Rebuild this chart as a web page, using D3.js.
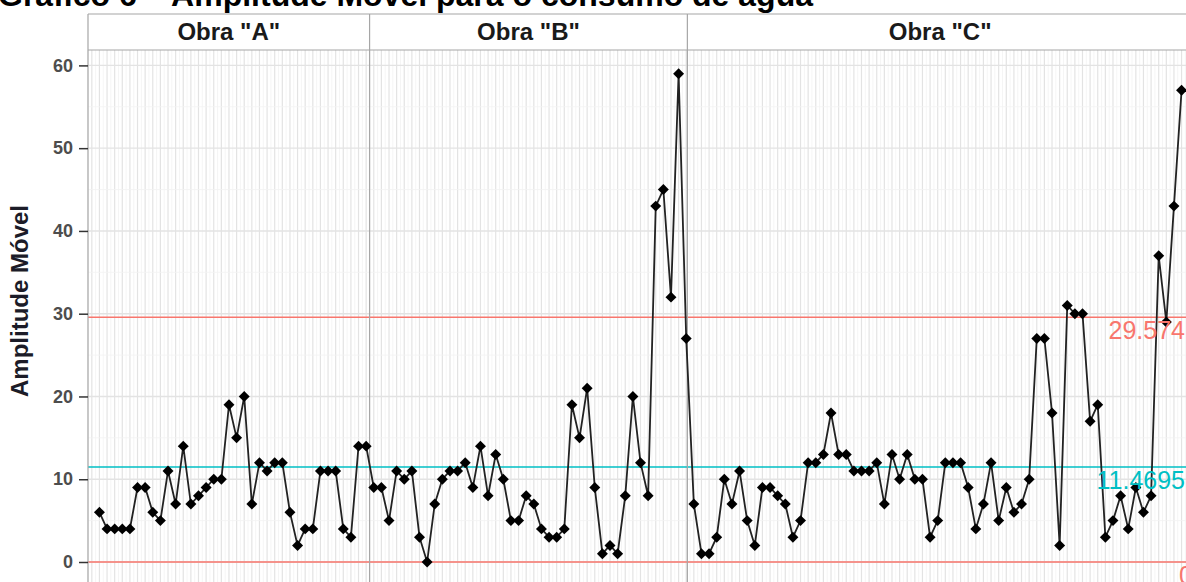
<!DOCTYPE html>
<html>
<head>
<meta charset="utf-8">
<script src="https://cdn.jsdelivr.net/npm/d3@7"></script>
<style>
  body { margin: 0; background: white; }
  text { font-family: "Liberation Sans", Arial, sans-serif; }
</style>
</head>
<body>
<div id="myVis"></div>
<script>
// Moving range values, one array per obra
const obraA = [6,4,4,4,4,9,9,6,5,11,7,14,7,8,9,10,10,19,15,20,7,12,11,12,12,6,2,4,4,11,11,11,4,3,14,14]
const obraB = [9,9,5,11,10,11,3,0,7,10,11,11,12,9,14,8,13,10,5,5,8,7,4,3,3,4,19,15,21,9,1,2,1,8,20,12,8,43,45,32,59,27]
const obraC = [7,1,1,3,10,7,11,5,2,9,9,8,7,3,5,12,12,13,18,13,13,11,11,11,12,7,13,10,13,10,10,3,5,
               12,12,12,9,4,7,12,5,9,6,7,10,27,27,18,2,31,30,30,17,19,3,5,8,4,9,6,8,37,29,43,57]
const obras = ['Obra "A"', 'Obra "B"', 'Obra "C"']
const obraLimits = [37.45, 79.15]     // where the panels split, in index units
const yTicks = [0, 10, 20, 30, 40, 50, 60]
const limits = [
  {value: 29.574, label: "29.574", color: "#F8766D"},
  {value: 11.4695, label: "11.4695", color: "#00BFC4"},
  {value: 0, label: "0", color: "#F8766D"}
]

const W = 1186, H = 582
const margin = {left: 88, top: 50, right: -7}

// first moving range is at index 2
const values = obraA.concat(obraB, obraC)
const data = values.map((v, i) => ({i: i + 2, v: v}))

const svg = d3.select("#myVis").append("svg")
    .attr("width", W)
    .attr("height", H)
    .style("background-color", "white")

const x = d3.scaleLinear().domain([0.5, 145.5]).range([margin.left, W - margin.right])
const y = d3.scaleLinear().domain([0, 60]).range([562, 65.4])

// title (cut off at the top in the original)
svg.append("text")
    .attr("x", -2)
    .attr("y", 6)
    .attr("font-size", 32)
    .attr("font-weight", "bold")
    .attr("fill", "#000")
    .text("Gráfico 6 – Amplitude Móvel para o consumo de água")

// panel grid
const grid = svg.append("g")
const minorX = d3.range(1, 146).map(d => d - 0.5)
grid.selectAll(".vminor").data(minorX).enter().append("line")
    .attr("x1", d => x(d)).attr("x2", d => x(d))
    .attr("y1", margin.top).attr("y2", H)
    .attr("stroke", "#f3f3f3").attr("stroke-width", 0.8)
grid.selectAll(".vmajor").data(d3.range(1, 146)).enter().append("line")
    .attr("x1", d => x(d)).attr("x2", d => x(d))
    .attr("y1", margin.top).attr("y2", H)
    .attr("stroke", "#e3e3e3").attr("stroke-width", 1.2)
grid.selectAll(".hminor").data([5, 15, 25, 35, 45, 55]).enter().append("line")
    .attr("x1", margin.left).attr("x2", W)
    .attr("y1", d => y(d)).attr("y2", d => y(d))
    .attr("stroke", "#f3f3f3").attr("stroke-width", 0.8)
grid.selectAll(".hmajor").data(yTicks).enter().append("line")
    .attr("x1", margin.left).attr("x2", W)
    .attr("y1", d => y(d)).attr("y2", d => y(d))
    .attr("stroke", "#e3e3e3").attr("stroke-width", 1.4)

// control limits
svg.selectAll(".lim").data(limits).enter().append("line")
    .attr("x1", margin.left).attr("x2", W)
    .attr("y1", d => y(d.value)).attr("y2", d => y(d.value))
    .attr("stroke", d => d.color)
    .attr("stroke-width", 1.6)

// panel borders and strips
const bounds = [0.5].concat(obraLimits, [145.5])
svg.append("line")
    .attr("x1", margin.left).attr("x2", margin.left)
    .attr("y1", 14).attr("y2", H)
    .attr("stroke", "#a6a6a6").attr("stroke-width", 1.2)
svg.selectAll(".sep").data(obraLimits).enter().append("line")
    .attr("x1", d => x(d)).attr("x2", d => x(d))
    .attr("y1", 14).attr("y2", H)
    .attr("stroke", "#a6a6a6").attr("stroke-width", 1.2)
svg.selectAll(".stripline").data([14, margin.top]).enter().append("line")
    .attr("x1", margin.left).attr("x2", W)
    .attr("y1", d => d).attr("y2", d => d)
    .attr("stroke", "#a6a6a6").attr("stroke-width", 1.2)
svg.selectAll(".strip").data(obras).enter().append("text")
    .attr("x", (d, k) => (x(bounds[k]) + x(bounds[k + 1])) / 2)
    .attr("y", 39.5)
    .attr("text-anchor", "middle")
    .attr("font-size", 24)
    .attr("font-weight", "bold")
    .attr("fill", "#1a1a1a")
    .text(d => d)

// y axis
const yAxis = svg.append("g")
    .attr("transform", "translate(" + margin.left + ",0)")
    .call(d3.axisLeft(y).tickValues(yTicks).tickSize(9).tickPadding(6))
yAxis.select(".domain").remove()
yAxis.selectAll(".tick line").attr("stroke", "#333").attr("stroke-width", 1.5)
yAxis.selectAll(".tick text")
    .attr("font-size", 18)
    .attr("font-weight", "bold")
    .attr("fill", "#4d4d4d")
    .attr("font-family", "Liberation Sans, Arial, sans-serif")

svg.append("text")
    .attr("transform", "translate(28," + 301 + ") rotate(-90)")
    .attr("text-anchor", "middle")
    .attr("font-size", 24)
    .attr("font-weight", "bold")
    .attr("fill", "#1c1c28")
    .text("Amplitude Móvel")

// series
const line = d3.line().x(d => x(d.i)).y(d => y(d.v))
svg.append("path")
    .datum(data)
    .attr("d", line)
    .attr("fill", "none")
    .attr("stroke", "#222")
    .attr("stroke-width", 1.8)

svg.append("g")
    .selectAll("path")
    .data(data)
    .enter()
    .append("path")
        .attr("d", d3.symbol(d3.symbolSquare, 60))
        .attr("transform", d => "translate(" + x(d.i) + "," + y(d.v) + ") rotate(45)")
        .attr("fill", "#000")

// limit labels
svg.selectAll(".limlab").data(limits).enter().append("text")
    .attr("x", d => d.value === 0 ? 1179 : 1185)
    .attr("y", d => y(d.value) + 22)
    .attr("text-anchor", d => d.value === 0 ? "start" : "end")
    .attr("font-size", 25)
    .attr("fill", d => d.color)
    .text(d => d.label)
</script>
</body>
</html>
